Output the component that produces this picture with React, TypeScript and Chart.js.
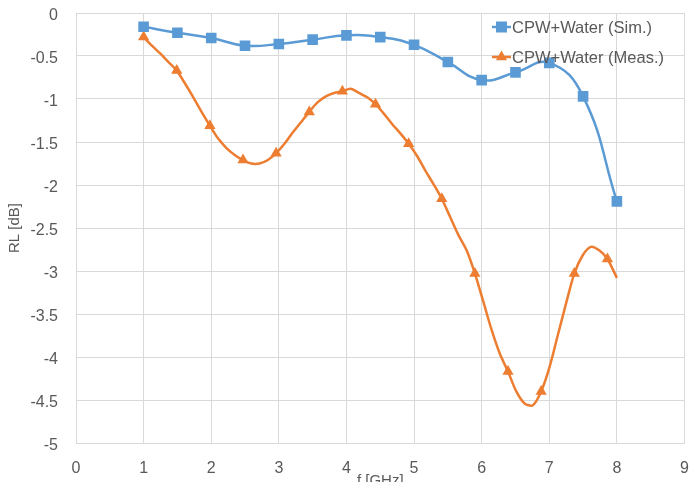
import React, { useEffect, useRef } from "react";
import { Chart, registerables } from "chart.js";

Chart.register(...registerables);

// Simulated return loss (blue squares)
const simFreq = [1, 1.5, 2, 2.5, 3, 3.5, 4, 4.5, 5, 5.5, 6, 6.5, 7, 7.5, 8];
const simRL = [-0.16, -0.23, -0.29, -0.38, -0.36, -0.31, -0.26, -0.28, -0.37, -0.57, -0.78, -0.69, -0.58, -0.97, -2.19];

// Measured return loss (orange, markers every 4th sample)
const measFreq = [
  1.0, 1.1225, 1.245, 1.3675, 1.49, 1.6125, 1.735, 1.8575, 1.98, 2.1025,
  2.225, 2.3475, 2.47, 2.5925, 2.715, 2.8375, 2.96, 3.0825, 3.205, 3.3275,
  3.45, 3.5725, 3.695, 3.8175, 3.94, 4.0625, 4.185, 4.3075, 4.43, 4.5525,
  4.675, 4.7975, 4.92, 5.0425, 5.165, 5.2875, 5.41, 5.5325, 5.655, 5.7775,
  5.9, 6.0225, 6.145, 6.2675, 6.39, 6.5125, 6.635, 6.7575, 6.88, 7.0025,
  7.125, 7.2475, 7.37, 7.4925, 7.615, 7.7375, 7.86, 8.0,
];
const measRL = [
  -0.28, -0.38, -0.47, -0.57, -0.67, -0.82, -0.98, -1.15, -1.31, -1.46,
  -1.57, -1.65, -1.71, -1.75, -1.75, -1.71, -1.63, -1.52, -1.39, -1.27,
  -1.15, -1.04, -0.97, -0.93, -0.91, -0.88, -0.93, -0.98, -1.06, -1.17,
  -1.29, -1.4, -1.52, -1.66, -1.83, -1.99, -2.16, -2.37, -2.58, -2.76,
  -3.03, -3.35, -3.68, -3.96, -4.17, -4.4, -4.54, -4.56, -4.4, -4.12,
  -3.75, -3.38, -3.03, -2.82, -2.72, -2.76, -2.86, -3.08,
];
const measMarkerEvery = 4;

const seriesNames = ["CPW+Water (Sim.)", "CPW+Water (Meas.)"];
const xTitle = "f [GHz]";
const yTitle = "RL [dB]";

const BLUE = "#5B9BD5";
const ORANGE = "#ED7D31";
const TEXT = "#595959";
const GRID = "#D9D9D9";
const FONT = "'Liberation Sans', Arial, sans-serif";

const legendPlugin = {
  id: "excelLegend",
  afterDraw(chart: any) {
    const ctx = chart.ctx;
    const items = [
      { name: seriesNames[0], color: BLUE, style: "rect", y: 27 },
      { name: seriesNames[1], color: ORANGE, style: "triangle", y: 57 },
    ];
    ctx.save();
    for (const it of items) {
      const x0 = 492;
      const x1 = 511;
      ctx.strokeStyle = it.color;
      ctx.lineWidth = 2.5;
      ctx.beginPath();
      ctx.moveTo(x0, it.y);
      ctx.lineTo(x1, it.y);
      ctx.stroke();
      ctx.fillStyle = it.color;
      const cx = (x0 + x1) / 2;
      if (it.style === "rect") {
        ctx.fillRect(cx - 5.5, it.y - 5.5, 11, 11);
      } else {
        ctx.beginPath();
        ctx.moveTo(cx, it.y - 6.5);
        ctx.lineTo(cx + 5.6, it.y + 3.3);
        ctx.lineTo(cx - 5.6, it.y + 3.3);
        ctx.closePath();
        ctx.fill();
      }
      ctx.fillStyle = TEXT;
      ctx.font = `16.5px ${FONT}`;
      ctx.textBaseline = "middle";
      ctx.textAlign = "left";
      ctx.fillText(it.name, 512, it.y + 1);
    }
    ctx.restore();
  },
};

const zeroPad = (s: any) => {
  s.paddingTop = 0;
  s.paddingBottom = 0;
  s.paddingLeft = 0;
  s.paddingRight = 0;
};

export default function App() {
  const ref = useRef<HTMLCanvasElement | null>(null);

  useEffect(() => {
    if (!ref.current) return;
    const chart = new Chart(ref.current, {
      type: "line",
      data: {
        datasets: [
          {
            label: seriesNames[0],
            data: simFreq.map((f, i) => ({ x: f, y: simRL[i] })),
            borderColor: BLUE,
            backgroundColor: BLUE,
            borderWidth: 2.5,
            pointStyle: "rect",
            pointRadius: 7.5,
            pointHoverRadius: 7.5,
            pointBorderWidth: 0,
            tension: 0.45,
          },
          {
            label: seriesNames[1],
            data: measFreq.map((f, i) => ({ x: f, y: measRL[i] })),
            borderColor: ORANGE,
            backgroundColor: ORANGE,
            borderWidth: 2.5,
            pointStyle: "triangle",
            pointRadius: (c: any) =>
              c.dataIndex % measMarkerEvery === 0 && c.dataIndex < measFreq.length - 1 ? 6.5 : 0,
            pointHoverRadius: 0,
            pointBorderWidth: 0,
            tension: 0.3,
          },
        ],
      },
      options: {
        responsive: false,
        animation: false,
        layout: { padding: { top: 13, right: 5, left: 0, bottom: 0 } },
        plugins: {
          legend: { display: false },
          tooltip: { enabled: false },
        },
        scales: {
          x: {
            type: "linear",
            min: 0,
            max: 9,
            ticks: {
              stepSize: 1,
              color: TEXT,
              font: { family: FONT, size: 16 },
              padding: 16,
              callback: (v: any) => `${v}`,
            },
            grid: { color: GRID, lineWidth: 1, drawTicks: false },
            border: { color: GRID },
            title: {
              display: true,
              text: xTitle,
              color: TEXT,
              font: { family: FONT, size: 15 },
              padding: { top: 0, bottom: -8 },
            },
            afterFit: (s: any) => {
              s.height = 39;
              zeroPad(s);
            },
          },
          y: {
            type: "linear",
            min: -5,
            max: 0,
            ticks: {
              stepSize: 0.5,
              color: TEXT,
              font: { family: FONT, size: 16 },
              padding: 18,
              labelOffset: 3,
              callback: (v: any) => `${v}`,
            },
            grid: { color: GRID, lineWidth: 1, drawTicks: false },
            border: { color: GRID },
            title: {
              display: true,
              text: yTitle,
              color: TEXT,
              font: { family: FONT, size: 15 },
              padding: { top: 6, bottom: 0 },
            },
            afterFit: (s: any) => {
              s.width = 76;
              zeroPad(s);
            },
          },
        },
      },
      plugins: [legendPlugin],
    });
    return () => chart.destroy();
  }, []);

  return (
    <div style={{ position: "absolute", left: 0, top: 0, width: 692, height: 482, background: "#fff" }}>
      <canvas ref={ref} width={692} height={482} />
    </div>
  );
}
